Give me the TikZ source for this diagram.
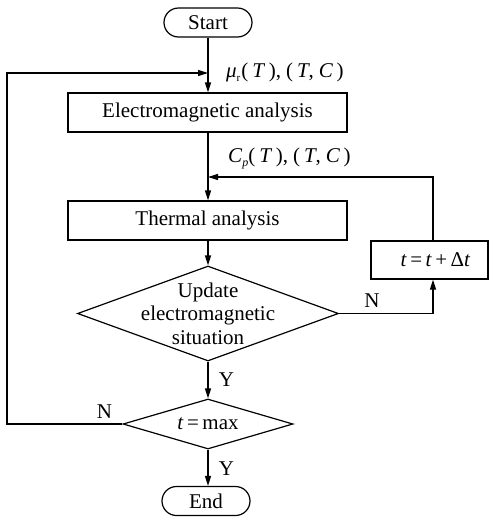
\documentclass[tikz,border=0pt]{standalone}
\usepackage{fontspec}
\setmainfont{Liberation Serif}
\usetikzlibrary{shapes.geometric,arrows.meta}
\begin{document}
\begin{tikzpicture}[x=1pt,y=-1pt,
  every node/.style={font=\fontsize{21}{23.5}\selectfont, inner sep=0pt},
  conn/.style={line width=1.2pt},
  arr/.style={conn,-{Triangle[length=10pt,width=6pt]}},
  procbox/.style={draw,line width=1.2pt,rectangle},
  term/.style={draw,line width=1.2pt,rectangle,rounded corners=14.5pt,minimum width=88pt,minimum height=29pt},
  dia/.style={draw,line width=1.2pt,diamond}]
\useasboundingbox (0,0) rectangle (489,520);
\node[term] (start) at (208,22.5) {Start};
\node[procbox,minimum width=279pt,minimum height=39pt] (em) at (207.5,112.5) {Electromagnetic analysis};
\node[procbox,minimum width=279pt,minimum height=39pt] (th) at (207.5,220.5) {Thermal analysis};
\node[procbox,minimum width=117pt,minimum height=38pt] (upd) at (429.5,260) {};
\node (updt) at (435.5,260) {\textit{t}\,=\,\textit{t}\,+\,Δ\textit{t}};
\node[dia,minimum width=261pt,minimum height=95pt] (d1) at (208,313.5) {};
\node[align=center] (d1t) at (208,313.5) {Update\\electromagnetic\\situation};
\node[dia,minimum width=170pt,minimum height=50pt] (d2) at (208,424) {};
\node (d2t) at (208,424) {\textit{t}\,=\,max};
\node[term] (end) at (206,501) {End};
\coordinate (loopL) at (7,424);
\coordinate (loopT) at (7,73);
\coordinate (inEM) at (208,73);
\coordinate (fbR) at (433,177);
\coordinate (fbIn) at (208,177);
\coordinate (nR) at (433,313.5);
% connectors
\draw[arr] (start) -- (start |- em.north);
\draw[arr] (d2.west) -- (loopL) -- (loopT) -- (inEM);
\draw[arr] (em.south -| start) -- (th.north -| start);
\draw[arr] (th.south -| d1) -- (d1.north);
\draw[arr] (d1.east) -- (nR) -- (nR |- upd.south);
\draw[arr] (nR |- upd.north) -- (fbR) -- (fbIn);
\draw[arr] (d1.south) -- (d2.north);
\draw[arr] (d2.south) -- (d2.south |- end.north);
% labels
\node[anchor=base west] (lmu) at (226,77) {\textit{μ}\raisebox{-4pt}{\fontsize{11}{11}\selectfont r}\hspace{1pt}(\hspace{4pt}\textit{T}\hspace{3.5pt}),\hspace{5pt}(\hspace{4pt}\textit{T},\hspace{5pt}\textit{C}\hspace{3.5pt})};
\node[anchor=base west] (lcp) at (228,162) {\textit{C}\raisebox{-4pt}{\fontsize{12}{12}\selectfont\textit{p}}(\hspace{4pt}\textit{T}\hspace{3.5pt}),\hspace{5pt}(\hspace{4pt}\textit{T},\hspace{5pt}\textit{C}\hspace{3.5pt})};
\node (n1) at (372,301) {N};
\node (n2) at (104.5,411.5) {N};
\node (y1) at (226.5,380) {Y};
\node (y2) at (226.5,469) {Y};
\end{tikzpicture}
\end{document}
